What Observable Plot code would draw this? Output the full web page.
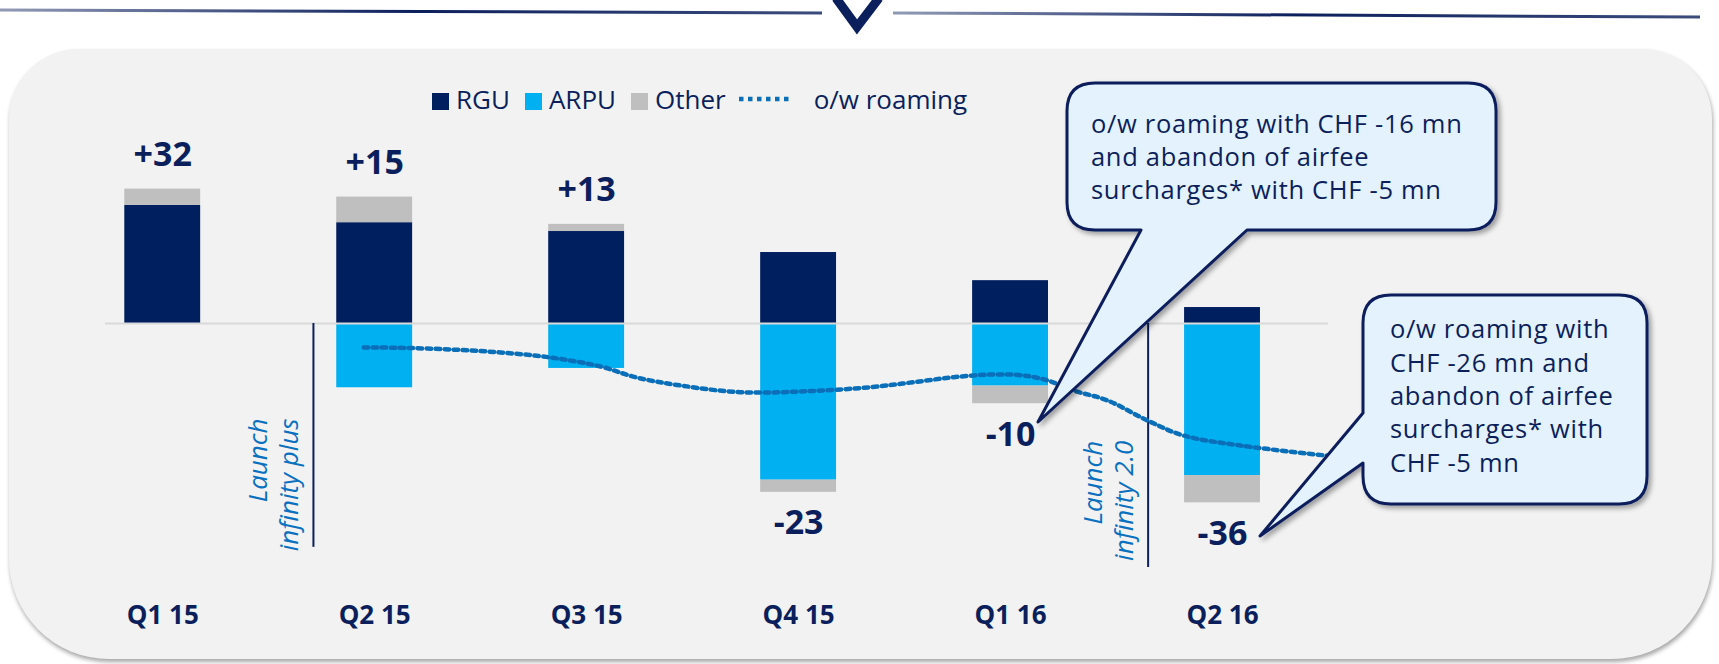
<!DOCTYPE html>
<html><head><meta charset="utf-8">
<script src="https://cdn.jsdelivr.net/npm/d3@7"></script>
<script src="https://cdn.jsdelivr.net/npm/@observablehq/plot@0.6"></script>
<style>
body{margin:0;background:#fff;font-family:"Open Sans",sans-serif;}
#wrap{position:relative;width:1719px;height:664px;overflow:hidden;}
#panel{position:absolute;left:9px;top:49px;width:1703px;height:610px;background:#f2f2f2;border-radius:70px 70px 100px 100px;box-shadow:1px 3px 4px rgba(0,0,0,0.35);}
#chart,#deco,#callouts{position:absolute;left:0;top:0;}
#legend{position:absolute;left:432px;top:82px;display:flex;align-items:center;font-size:26px;color:#0b1f5c;line-height:34px;white-space:nowrap}
.sw{width:17px;height:17px;display:inline-block;margin-right:7px;transform:translateY(2px)}
.lt{margin-right:15px}
</style></head>
<body>
<div id="wrap">
  <svg id="deco" width="1719" height="60">
    <defs><linearGradient id="gl" x1="0" x2="1"><stop offset="0" stop-color="#0b1f5c" stop-opacity="0.45"/><stop offset="0.5" stop-color="#0b1f5c"/><stop offset="1" stop-color="#0b1f5c" stop-opacity="0.8"/></linearGradient></defs>
    <line x1="0" y1="10" x2="822" y2="13" stroke="url(#gl)" stroke-width="3"/>
    <line x1="893" y1="13" x2="1700" y2="17" stroke="url(#gl)" stroke-width="3"/>
    <polyline points="836,-2 857,27 879,-2" fill="none" stroke="#0b1f5c" stroke-width="9"/>
  </svg>
  <div id="panel"></div>
  <div id="chart"></div>
  <svg id="callouts" width="1719" height="664">
    <defs><filter id="sh" x="-10%" y="-10%" width="130%" height="130%"><feDropShadow dx="3" dy="3" stdDeviation="2.5" flood-color="#000" flood-opacity="0.35"/></filter></defs>
    <g font-family="Open Sans" font-size="25.5" letter-spacing="0.7" fill="#0d1f5b">
      <path filter="url(#sh)" fill="#e3f2fc" stroke="#0b1f5c" stroke-width="3" stroke-linejoin="round"
        d="M1095,83 H1468 Q1496,83 1496,111 V202 Q1496,230 1468,230 H1247 L1038,422 L1141,230 H1095 Q1067,230 1067,202 V111 Q1067,83 1095,83 Z"/>
      <text x="1091" y="133">o/w roaming with CHF -16 mn</text>
      <text x="1091" y="166">and abandon of airfee</text>
      <text x="1091" y="199">surcharges* with CHF -5 mn</text>
      <path filter="url(#sh)" fill="#e3f2fc" stroke="#0b1f5c" stroke-width="3" stroke-linejoin="round"
        d="M1391,295 H1619 Q1647,295 1647,323 V476 Q1647,504 1619,504 H1391 Q1363,504 1363,476 V463 L1260,536 L1363,413 V323 Q1363,295 1391,295 Z"/>
      <text x="1390" y="338">o/w roaming with</text>
      <text x="1390" y="372">CHF -26 mn and</text>
      <text x="1390" y="405">abandon of airfee</text>
      <text x="1390" y="438">surcharges* with</text>
      <text x="1390" y="472">CHF -5 mn</text>
    </g>
  </svg>
  <div id="legend"></div>
</div>
<script>
// ---- data ----
const quarters = ["Q1 15", "Q2 15", "Q3 15", "Q4 15", "Q1 16", "Q2 16"];
const series = ["RGU", "ARPU", "Other"];
const rgu   = [28.1, 24.0, 21.9, 16.9, 10.2, 3.8];
const arpu  = [0, -15.3, -10.7, -37.3, -14.9, -36.2];
const other = [3.9, 6.1, 1.7, -2.9, -4.2, -6.5];
const totalLabels = ["+32", "+15", "+13", "-23", "-10", "-36"];
const roamingX = [0.948, 1.123, 1.358, 1.594, 1.830, 2.066, 2.236, 2.443, 2.726, 3.042, 3.340, 3.542, 3.731, 3.920, 4.061, 4.175, 4.297, 4.458, 4.646, 4.816, 5.085, 5.5];
const roamingY = [-5.71, -5.79, -6.19, -6.90, -8.10, -10.24, -12.86, -14.76, -16.36, -16.12, -15.17, -13.98, -12.79, -12.14, -12.38, -13.57, -15.95, -18.33, -23.1, -26.67, -29.05, -31.5];
const launchX = [0.711, 4.649];
const launchEnd = [-53.3, -58.1];
const launchTop = [-22.6, -27.9];
const launchLabels = ["Launch\ninfinity plus", "Launch\ninfinity 2.0"];

const navy = "#0b1f5c";
const colors = ["#001f5e", "#00b0f0", "#bfbfbf"];
const roamColor = "#0a6fb8";

// ---- build stacks ----
const vals = [rgu, arpu, other];
const segs = [];
const labels = [];
quarters.forEach((q, i) => {
  let pos = 0, neg = 0;
  series.forEach((s, k) => {
    const v = vals[k][i];
    if (!v) return;
    if (v > 0) { segs.push({i, s, y1: pos, y2: pos + v}); pos += v; }
    else { segs.push({i, s, y1: neg, y2: neg + v}); neg += v; }
  });
  const t = rgu[i] + arpu[i] + other[i];
  labels.push({i, text: totalLabels[i], pos: t > 0, y: t > 0 ? pos : neg});
});
const roaming = roamingX.map((x, j) => ({x, y: roamingY[j]}));
const launches = launchX.map((x, j) => ({x, end: launchEnd[j], top: launchTop[j], label: launchLabels[j]}));

const hw = 0.179;
const chart = Plot.plot({
  width: 1719, height: 664,
  marginLeft: 105, marginRight: 391, marginTop: 155, marginBottom: 152,
  x: {domain: [-0.27, 5.5], axis: null},
  y: {domain: [-45, 40], axis: null},
  color: {domain: series, range: colors},
  style: {background: "transparent", fontFamily: "Open Sans", overflow: "visible"},
  marks: [
    Plot.rect(segs, {x1: d => d.i - hw, x2: d => d.i + hw, y1: "y1", y2: "y2", fill: "s"}),
    Plot.ruleY([0], {stroke: "#d9d9d9", strokeWidth: 2}),
    Plot.ruleX(launches, {x: "x", y1: 0, y2: "end", stroke: navy, strokeWidth: 2}),
    Plot.text(launches, {x: "x", y: "top", text: "label", rotate: -90, textAnchor: "end", lineAnchor: "middle",
      lineHeight: 1.2, dx: -41, fontSize: 26, fontStyle: "italic", fill: "#0a70c0"}),
    Plot.line(roaming, {x: "x", y: "y", curve: "catmull-rom", stroke: roamColor, strokeWidth: 4.5, strokeDasharray: "4.5 4.5"}),
    Plot.text(labels.filter(d => d.pos), {x: "i", y: "y", text: "text", lineAnchor: "bottom", dy: -23,
      fontSize: 34, fontWeight: 700, fill: navy}),
    Plot.text(labels.filter(d => !d.pos), {x: "i", y: "y", text: "text", lineAnchor: "top", dy: 18,
      fontSize: 34, fontWeight: 700, fill: navy}),
    Plot.text(quarters, {x: (d, i) => i, text: d => d, frameAnchor: "bottom", lineAnchor: "top", dy: 93,
      fontSize: 26, fontWeight: 700, fill: navy})
  ]
});
document.getElementById("chart").appendChild(chart);

// ---- legend ----
const lg = document.getElementById("legend");
series.forEach((s, k) => {
  const sw = document.createElement("span"); sw.className = "sw"; sw.style.background = colors[k];
  const tx = document.createElement("span"); tx.className = "lt"; tx.textContent = s;
  lg.appendChild(sw); lg.appendChild(tx);
});
const dl = document.createElementNS("http://www.w3.org/2000/svg", "svg");
dl.setAttribute("width", 53); dl.setAttribute("height", 8); dl.style.marginRight = "22px"; dl.style.marginLeft = "-2px";
dl.innerHTML = `<line x1="0" x2="53" y1="4" y2="4" stroke="${roamColor}" stroke-width="4.5" stroke-dasharray="4.5 4.5"/>`;
lg.appendChild(dl);
const rt = document.createElement("span"); rt.textContent = "o/w roaming"; lg.appendChild(rt);
</script>
</body></html>
